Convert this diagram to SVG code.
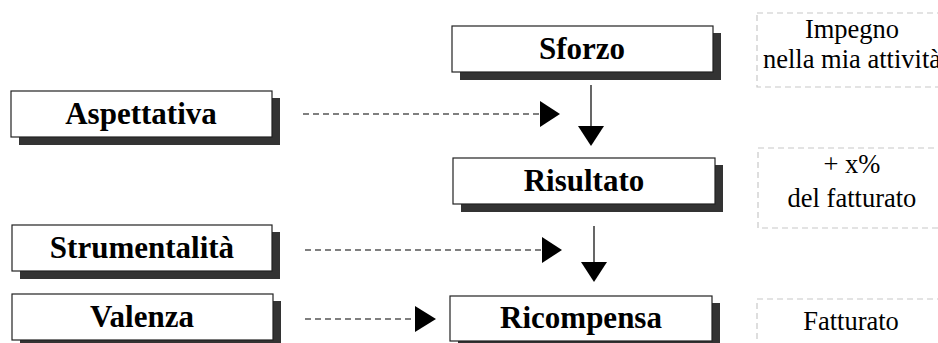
<svg xmlns="http://www.w3.org/2000/svg" width="938" height="343" viewBox="0 0 938 343">
  <defs>
    <style>
      .shadow { fill: #333333; }
      .box { fill: #ffffff; stroke: #222222; stroke-width: 1.2; }
      .label { font-family: "Liberation Serif", "Times New Roman", serif; font-weight: bold; font-size: 31px; fill: #000; text-anchor: middle; }
      .note { fill: none; stroke: #c8c8c8; stroke-width: 1.2; stroke-dasharray: 6 4; }
      .notetext { font-family: "Liberation Serif", "Times New Roman", serif; font-size: 26.5px; fill: #000; text-anchor: middle; }
      .dash { stroke: #000; stroke-width: 1.2; stroke-dasharray: 6 4; fill: none; }
      .solid { stroke: #000; stroke-width: 1.2; fill: none; }
      .head { fill: #000; }
    </style>
  </defs>

  <!-- main nodes: box with offset shadow -->
  <g id="sforzo">
    <rect class="shadow" x="460" y="33" width="261" height="47"/>
    <rect class="box" x="452" y="26" width="261" height="46"/>
    <text class="label" x="582" y="59">Sforzo</text>
  </g>
  <g id="aspettativa">
    <rect class="shadow" x="19" y="98" width="261" height="47"/>
    <rect class="box" x="11" y="91" width="261" height="46"/>
    <text class="label" x="141" y="124">Aspettativa</text>
  </g>
  <g id="risultato">
    <rect class="shadow" x="461" y="165" width="262" height="47"/>
    <rect class="box" x="453" y="158" width="262" height="46"/>
    <text class="label" x="584" y="191">Risultato</text>
  </g>
  <g id="strumentalita">
    <rect class="shadow" x="20" y="232" width="260" height="47"/>
    <rect class="box" x="12" y="225" width="260" height="46"/>
    <text class="label" x="142" y="258">Strumentalità</text>
  </g>
  <g id="valenza">
    <rect class="shadow" x="20" y="301" width="261" height="47"/>
    <rect class="box" x="12" y="294" width="261" height="46"/>
    <text class="label" x="142" y="327">Valenza</text>
  </g>
  <g id="ricompensa">
    <rect class="shadow" x="458" y="303" width="262" height="47"/>
    <rect class="box" x="450" y="296" width="262" height="45"/>
    <text class="label" x="581" y="328">Ricompensa</text>
  </g>

  <!-- side notes -->
  <g id="nota-sforzo">
    <rect class="note" x="757" y="13" width="190" height="74"/>
    <text class="notetext" x="852" y="38">Impegno</text>
    <text class="notetext" x="852" y="68">nella mia attività</text>
  </g>
  <g id="nota-risultato">
    <rect class="note" x="758" y="148" width="190" height="80"/>
    <text class="notetext" x="852" y="173">+ x%</text>
    <text class="notetext" x="852" y="207">del fatturato</text>
  </g>
  <g id="nota-ricompensa">
    <rect class="note" x="757" y="299" width="190" height="60"/>
    <text class="notetext" x="851" y="330">Fatturato</text>
  </g>

  <!-- connectors -->
  <g id="connectors">
    <line class="dash" x1="303" y1="114" x2="541" y2="114"/>
    <polygon class="head" points="540,101 560,114 540,127"/>

    <line class="solid" x1="591" y1="85" x2="591" y2="127"/>
    <polygon class="head" points="578,126 604,126 591,146"/>

    <line class="dash" x1="305" y1="250" x2="543" y2="250"/>
    <polygon class="head" points="542,237 562,250 542,263"/>

    <line class="solid" x1="594" y1="226" x2="594" y2="263"/>
    <polygon class="head" points="581,262 607,262 594,282"/>

    <line class="dash" x1="305" y1="319" x2="416" y2="319"/>
    <polygon class="head" points="415,306 436,319 415,332"/>
  </g>
</svg>
